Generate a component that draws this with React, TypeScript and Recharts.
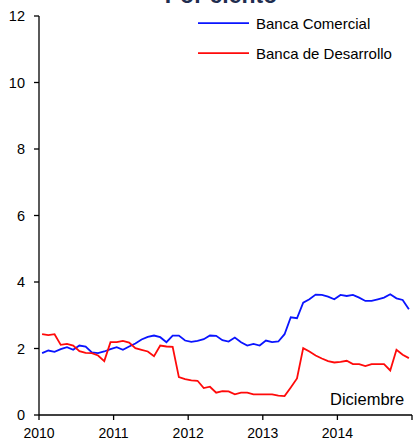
import React from 'react';
import { LineChart, Line, XAxis, YAxis, Legend } from 'recharts';

// Monthly data, January 2010 - December 2014 (per cent)
const years = ['2010', '2011', '2012', '2013', '2014'];
const monthNames = ['Ene', 'Feb', 'Mar', 'Abr', 'May', 'Jun', 'Jul', 'Ago', 'Sep', 'Oct', 'Nov', 'Dic'];

const bancaComercial = [
  1.86, 1.94, 1.90, 1.98, 2.04, 1.96, 2.09, 2.06, 1.88, 1.86, 1.91, 1.98,
  2.04, 1.96, 2.06, 2.15, 2.27, 2.35, 2.39, 2.34, 2.19, 2.39, 2.39, 2.24,
  2.20, 2.23, 2.28, 2.39, 2.38, 2.25, 2.21, 2.33, 2.19, 2.09, 2.14, 2.09,
  2.24, 2.19, 2.21, 2.43, 2.94, 2.91, 3.38, 3.48, 3.62, 3.61, 3.56, 3.48,
  3.61, 3.58, 3.61, 3.53, 3.43, 3.43, 3.48, 3.53, 3.63, 3.51, 3.46, 3.18,
];

const bancaDesarrollo = [
  2.43, 2.40, 2.43, 2.11, 2.14, 2.09, 1.92, 1.87, 1.86, 1.79, 1.62, 2.19,
  2.19, 2.23, 2.18, 2.01, 1.96, 1.91, 1.77, 2.09, 2.06, 2.05, 1.14, 1.08,
  1.04, 1.03, 0.81, 0.85, 0.67, 0.72, 0.71, 0.62, 0.67, 0.67, 0.62, 0.62,
  0.62, 0.62, 0.58, 0.57, 0.83, 1.10, 2.01, 1.91, 1.79, 1.70, 1.62, 1.58,
  1.60, 1.63, 1.53, 1.53, 1.47, 1.53, 1.53, 1.53, 1.34, 1.96, 1.81, 1.71,
];

const yTicks = [0, 2, 4, 6, 8, 10, 12];
const xTicks = [0, 12, 24, 36, 48, 60];
const xTickLabels = ['2010', '2011', '2012', '2013', '2014', ''];

const seriesNames = { com: 'Banca Comercial', des: 'Banca de Desarrollo' };
const title = 'Por ciento';
const note = 'Diciembre';

const labels: string[] = [];
years.forEach((y) => monthNames.forEach((m) => labels.push(`${m} ${y}`)));

// x = month index placed at mid-month on a numeric month axis
const data = labels.map((label, i) => ({
  label,
  t: i + 0.5,
  com: bancaComercial[i],
  des: bancaDesarrollo[i],
}));

const FONT = '"Liberation Sans", Arial, sans-serif';

const renderLegend = (props: any) => {
  const payload = props.payload || [];
  return (
    <svg width={220} height={60} style={{ display: 'block' }}>
      {payload.map((entry: any, idx: number) => {
        const y = 13 + idx * 30;
        return (
          <g key={idx}>
            <line x1={8} x2={59} y1={y} y2={y} stroke={entry.color} strokeWidth={1.75} />
            <text x={66} y={y + 5.5} fontSize={15} fontFamily={FONT} fill="#000">
              {entry.value}
            </text>
          </g>
        );
      })}
    </svg>
  );
};

export default function App() {
  return (
    <div style={{ position: 'absolute', left: 0, top: 0, width: 414, height: 443, background: '#fff' }}>
      <LineChart
        width={414}
        height={443}
        data={data}
        margin={{ top: 16, right: 2, bottom: 0, left: 0 }}
      >
        <XAxis
          dataKey="t"
          type="number"
          domain={[0, 60]}
          ticks={xTicks}
          tickFormatter={(v: number) => xTickLabels[xTicks.indexOf(v)] ?? ''}
          height={28}
          tickSize={5}
          tickMargin={8}
          stroke="#000"
          tick={{ fill: '#000', fontSize: 14, fontFamily: FONT }}
          axisLine={{ stroke: '#000', strokeWidth: 1.3 }}
          tickLine={{ stroke: '#000', strokeWidth: 1.3 }}
          interval={0}
        />
        <YAxis
          type="number"
          domain={[0, 12]}
          ticks={yTicks}
          width={39}
          tickSize={5}
          tickMargin={9}
          stroke="#000"
          tick={{ fill: '#000', fontSize: 14.5, fontFamily: FONT }}
          axisLine={{ stroke: '#000', strokeWidth: 1.3 }}
          tickLine={{ stroke: '#000', strokeWidth: 1.3 }}
          interval={0}
        />
        <Legend
          layout="horizontal"
          verticalAlign="middle"
          align="center"
          content={renderLegend}
          wrapperStyle={{ top: 10, left: 190, width: 220, height: 60 }}
        />
        <Line
          type="linear"
          dataKey="com"
          name={seriesNames.com}
          stroke="#0a14ff"
          strokeWidth={1.8}
          dot={false}
          activeDot={false}
          isAnimationActive={false}
        />
        <Line
          type="linear"
          dataKey="des"
          name={seriesNames.des}
          stroke="#ff0a0a"
          strokeWidth={1.8}
          dot={false}
          activeDot={false}
          isAnimationActive={false}
        />
      </LineChart>
      <svg
        width={414}
        height={443}
        style={{ position: 'absolute', left: 0, top: 0, pointerEvents: 'none' }}
      >
        <text x={221} y={3} textAnchor="middle" fontSize={23} fontWeight="bold" fontFamily={FONT} fill="#1f2d4f">
          {title}
        </text>
        <text x={330} y={405} fontSize={16.5} fontFamily={FONT} fill="#000">
          {note}
        </text>
      </svg>
    </div>
  );
}
